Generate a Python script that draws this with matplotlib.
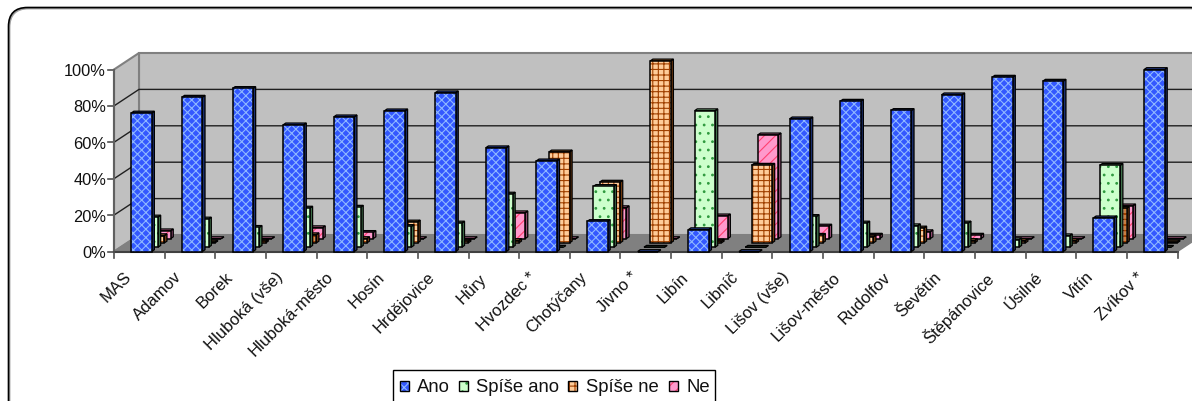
import matplotlib
matplotlib.use("Agg")
import matplotlib.pyplot as plt
from matplotlib.patches import Polygon, Rectangle, FancyBboxPatch

plt.rcParams['font.family'] = ['Liberation Sans', 'DejaVu Sans']
plt.rcParams['hatch.linewidth'] = 0.8

# data (percent)
obce = ["MAS", "Adamov", "Borek", "Hluboká (vše)", "Hluboká-město", "Hosín", "Hrdějovice",
        "Hůry", "Hvozdec *", "Chotýčany", "Jivno *", "Libín", "Libníč", "Lišov (vše)",
        "Lišov-město", "Rudolfov", "Ševětín", "Štěpánovice", "Úsilné", "Vitín", "Zvíkov *"]
ano = [76.1, 84.8, 89.6, 69.6, 74, 77.3, 87.2, 57, 49.8, 16.5, 0, 12, 0, 72.9, 82.6, 77.5, 86.1, 95.8, 93.6, 18.5, 100]
spise_ano = [16.6, 15.5, 10.9, 21.5, 22, 11.4, 13.3, 29.2, 0, 33.4, 0, 75, 0, 16.9, 13.3, 11.8, 13.3, 4.1, 6.3, 45, 0]
spise_ne = [4, 0.5, 1, 4.5, 2.4, 11.5, 1, 1.3, 50, 33.4, 100, 1, 42.7, 4.2, 3.3, 8.2, 1.3, 1.3, 1.3, 19, 0.5]
ne = [4.3, 0, 0, 6, 3.4, 0, 0, 14.2, 0, 17, 0, 12.5, 57, 6.9, 1.9, 3.8, 1.9, 0, 0, 18, 0]
y_ticks = [0, 20, 40, 60, 80, 100]

serie = [("Ano", ano), ("Spíše ano", spise_ano), ("Spíše ne", spise_ne), ("Ne", ne)]
# face, hatch colour, hatch, side, top
styly = [("#3358ff", "#8fb8ff", "xxxx", "#1b2f70", "#2c4ab0"),
         ("#ccffcc", "#2f9a3f", "..", "#3f6f4a", "#7fb58a"),
         ("#ffcc99", "#a04000", "+++", "#6f3a10", "#a86a30"),
         ("#ff99cc", "#ff4070", "///", "#8f4a70", "#c06a95")]

fig = plt.figure(figsize=(11.92, 4.02), dpi=100)
ax = fig.add_axes([0, 0, 1, 1])
ax.set_xlim(0, 1192)
ax.set_ylim(402, 0)
ax.axis("off")

x0, x1 = 114, 1177.5       # front edge of the floor
y0, pp = 252.5, 1.82       # px of 0 %, px per percent
back_x, back_y = 25, 16.5  # depth of the box
krok = (x1 - x0) / len(obce)


def px(i, s, v):
    return x0 + krok * (i + 0.5) + 2.2 + s * 6.3, y0 - s * 4.3 - v * pp


# outer frame, runs past the right and bottom edge
ax.add_patch(FancyBboxPatch((9.5, 9.5), 1200, 420, boxstyle="round,pad=0,rounding_size=19",
                            fc="none", ec="#a0a0a0", lw=1.3, zorder=1))
ax.add_patch(FancyBboxPatch((8.5, 8.5), 1200, 420, boxstyle="round,pad=0,rounding_size=19",
                            fc="none", ec="black", lw=1.2, zorder=1))

# walls and floor
ax.add_patch(Polygon([(x0 + back_x, y0 - back_y), (x1 + back_x, y0 - back_y),
                      (x1 + back_x, y0 - back_y - 100 * pp), (x0 + back_x, y0 - back_y - 100 * pp)],
                     fc="#c0c0c0", ec="#808080", lw=1.5, zorder=2))
ax.add_patch(Polygon([(x0, y0), (x0 + back_x, y0 - back_y), (x0 + back_x, y0 - back_y - 100 * pp),
                      (x0, y0 - 100 * pp)], fc="#c0c0c0", ec="#808080", lw=1.5, zorder=2))
ax.add_patch(Polygon([(x0, y0), (x1, y0), (x1 + back_x, y0 - back_y), (x0 + back_x, y0 - back_y)],
                     fc="#808080", ec="#808080", lw=1, zorder=2))

for t in y_ticks:
    y = y0 - t * pp
    if t > 0 and t < 100:
        ax.plot([x0, x0 + back_x, x1 + back_x], [y, y - back_y, y - back_y], color="#202020", lw=1, zorder=3)
    ax.plot([x0 - 6, x0], [y, y], color="#505050", lw=1.2, zorder=3)
    ax.text(x0 - 8, y + 1, "%d%%" % t, ha="right", va="center", fontsize=11.8, color="#111111")

ax.plot([x0, x0], [y0, y0 - 100 * pp], color="#606060", lw=1.5, zorder=3)
ax.plot([x0, x1], [y0, y0], color="#404040", lw=1.5, zorder=3)
for i in range(len(obce) + 1):
    xt = x0 + krok * i
    ax.plot([xt, xt], [y0, y0 + 6], color="#505050", lw=1.2, zorder=3)
for i, nazev in enumerate(obce):
    xt = x0 + krok * (i + 0.5)
    ax.text(xt - 16, y0 + 17, nazev, rotation=45, ha="right", va="top", rotation_mode="anchor",
            fontsize=12, color="#111111")

# bars, back series first
sirka, hl_x, hl_y = 20.5, 2.6, 1.8
z = 4
for s in range(len(serie) - 1, -1, -1):
    hodnoty = serie[s][1]
    fc, hc, hatch, side, top = styly[s]
    for i, v in enumerate(hodnoty):
        xc, yt = px(i, s, v)
        yb = px(i, s, 0)[1]
        xl, xr = xc - sirka / 2, xc + sirka / 2
        z += 1
        ax.add_patch(Polygon([(xr, yb), (xr + hl_x, yb - hl_y), (xr + hl_x, yt - hl_y), (xr, yt)],
                             fc=side, ec="black", lw=0.9, zorder=z))
        ax.add_patch(Polygon([(xl, yt), (xr, yt), (xr + hl_x, yt - hl_y), (xl + hl_x, yt - hl_y)],
                             fc=top, ec="black", lw=0.9, zorder=z))
        if v > 0:
            ax.add_patch(Rectangle((xl, yt), sirka, yb - yt, fc=fc, ec=hc, hatch=hatch, lw=0, zorder=z))
        ax.add_patch(Rectangle((xl, yt), sirka, yb - yt, fc="none", ec="black", lw=1.1, zorder=z))

# legend box, cut by the bottom edge like the picture
ax.add_patch(Rectangle((393, 371), 322, 40, fc="white", ec="black", lw=1, zorder=200))
leg_sw = [400, 459, 568, 669]
leg_tx = [417, 476, 586, 686]
for s in range(len(serie)):
    fc, hc, hatch, side, top = styly[s]
    ax.add_patch(Rectangle((leg_sw[s], 382), 9, 9.5, fc=fc, ec=hc, hatch=hatch, lw=0, zorder=201))
    ax.add_patch(Rectangle((leg_sw[s], 382), 9, 9.5, fc="none", ec="black", lw=1, zorder=201))
    ax.text(leg_tx[s], 388, serie[s][0], ha="left", va="center", fontsize=13.3, color="#111111", zorder=202)

fig.savefig("out.png", dpi=100)
